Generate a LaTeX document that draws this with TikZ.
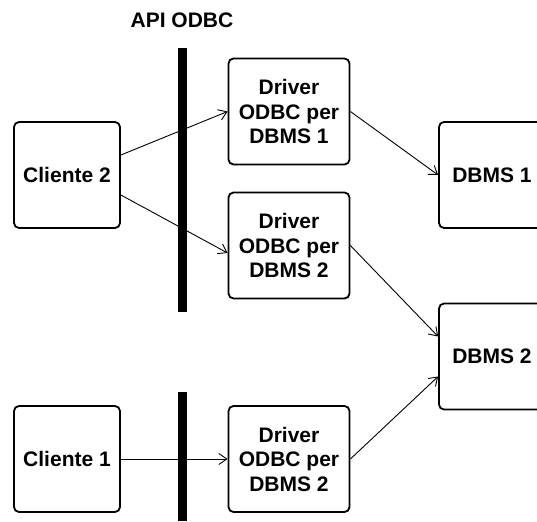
\documentclass[tikz,border=0pt]{standalone}
\usepackage{fontspec}
\setmainfont{Liberation Sans}
\usetikzlibrary{arrows.meta}

\tikzset{
  box/.style={draw, line width=1.8pt, rounded corners=5pt, minimum width=106pt,
    minimum height=106pt, align=center, inner sep=0pt},
  drvbox/.style={box, minimum width=121pt},
  link/.style={-{Straight Barb[length=8pt,width=11pt]}, line width=0.9pt},
  apibar/.style={line width=9pt}
}

\begin{document}
\begin{tikzpicture}[x=1pt, y=-1pt, font=\fontsize{21}{24.5}\selectfont\bfseries]
  \useasboundingbox (0,0) rectangle (537,521);
  % API layer: label and the two thick bars
  \node (apilabel) at (182,20) {API ODBC};
  \draw[apibar] (182.5,48) -- (182.5,312);
  \draw[apibar] (182.5,392) -- (182.5,521);
  % clients
  \node[box] (cl2) at (67,175) {Cliente 2};
  \node[box] (cl1) at (67,459) {Cliente 1};
  % drivers
  \node[drvbox] (drv1) at (289,111.5) {Driver\\ODBC per\\DBMS 1};
  \node[drvbox] (drv2) at (289,245.5) {Driver\\ODBC per\\DBMS 2};
  \node[drvbox] (drv3) at (289,459) {Driver\\ODBC per\\DBMS 2};
  % databases
  \node[box] (db1) at (492,175) {DBMS 1};
  \node[box] (db2) at (492,356.5) {DBMS 2};
  % connections
  \draw[link] ([yshift=20pt]cl2.east) -- (drv1.west);
  \draw[link] ([yshift=-20pt]cl2.east) -- ([yshift=-7.5pt]drv2.west);
  \draw[link] (cl1.east) -- (drv3.west);
  \draw[link] (drv1.east) -- (db1.west);
  \draw[link] (drv2.east) -- ([yshift=20pt]db2.west);
  \draw[link] (drv3.east) -- ([yshift=-20pt]db2.west);
\end{tikzpicture}
\end{document}
